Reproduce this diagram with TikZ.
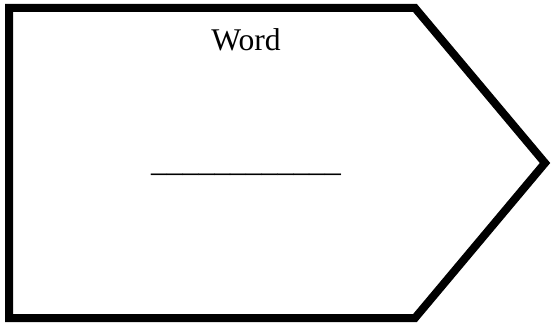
\documentclass[tikz,border=0pt]{standalone}
\usepackage{fontspec}
\setmainfont{Liberation Serif}
\begin{document}
\begin{tikzpicture}[x=1pt,y=1pt,
  frame/.style={line width=8pt,line join=miter,draw=black},
  lbl/.style={inner sep=0pt,font=\fontsize{31.6}{38}\selectfont}]
\useasboundingbox (0,0) rectangle (553,324);
\coordinate (tl) at (9,316);
\coordinate (tr) at (415,316);
\coordinate (tip) at (545,161);
\coordinate (br) at (415,6);
\coordinate (bl) at (9,6);
\draw[frame] (tl) -- (tr) -- (tip) -- (br) -- (bl) -- cycle;
\node[lbl,anchor=base] (word) at (246,273) {Word};
\node[lbl,anchor=base] (blank) at (246,152) {\_\_\_\_\_\_\_\_\_\_\_\_};
\end{tikzpicture}
\end{document}
